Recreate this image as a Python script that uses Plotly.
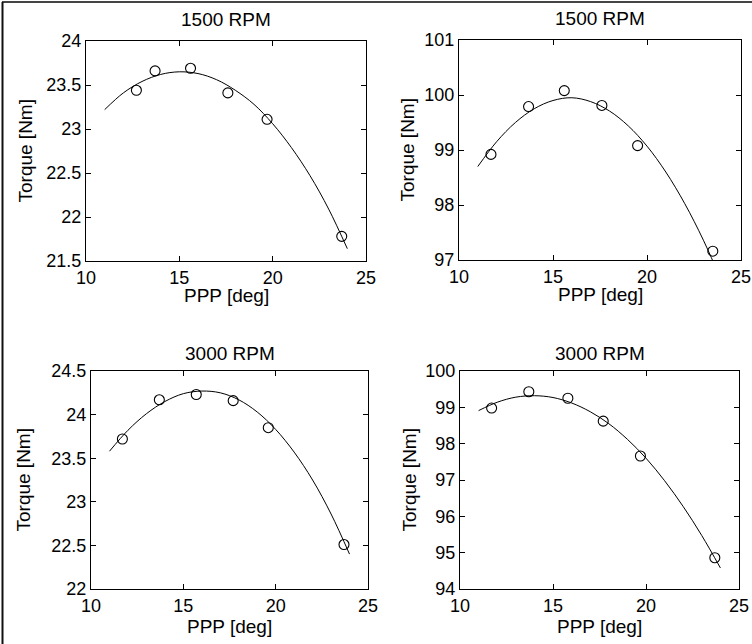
import plotly.graph_objects as go

W, H = 752, 644

# ---------------- data ----------------
titles = ["1500 RPM", "1500 RPM", "3000 RPM", "3000 RPM"]

# measured points
tl_x = [12.7, 13.7, 15.6, 17.6, 19.7, 23.7]
tl_y = [23.44, 23.66, 23.69, 23.41, 23.11, 21.78]
tr_x = [11.7, 13.7, 15.6, 17.6, 19.5, 23.5]
tr_y = [98.92, 99.79, 100.08, 99.81, 99.08, 97.16]
bl_x = [11.7, 13.7, 15.7, 17.7, 19.6, 23.7]
bl_y = [23.72, 24.17, 24.23, 24.16, 23.85, 22.51]
br_x = [11.7, 13.7, 15.8, 17.7, 19.7, 23.7]
br_y = [98.98, 99.43, 99.25, 98.62, 97.66, 94.86]

# fitted curves
fit_x = [11, 12, 13, 14, 15, 16, 17, 18, 19, 20, 21, 22, 23, 24]
tl_fit = [23.22, 23.41, 23.54, 23.62, 23.65, 23.63, 23.56, 23.44, 23.28, 23.06, 22.79, 22.47, 22.09, 21.64]
tr_fit = [98.70, 99.15, 99.50, 99.75, 99.90, 99.95, 99.88, 99.71, 99.44, 99.07, 98.60, 98.03, 97.36, 96.59]
bl_fit = [23.58, 23.82, 24.01, 24.15, 24.24, 24.27, 24.25, 24.17, 24.03, 23.83, 23.57, 23.25, 22.86, 22.40]
br_fit = [98.91, 99.14, 99.28, 99.32, 99.27, 99.12, 98.88, 98.55, 98.12, 97.60, 96.98, 96.27, 95.47, 94.58]

x_ticks = [10, 15, 20, 25]
x_ticklabels = ["10", "15", "20", "25"]
tl_ticks = [21.5, 22, 22.5, 23, 23.5, 24]
tl_ticklabels = ["21.5", "22", "22.5", "23", "23.5", "24"]
tr_ticks = [97, 98, 99, 100, 101]
tr_ticklabels = ["97", "98", "99", "100", "101"]
bl_ticks = [22, 22.5, 23, 23.5, 24, 24.5]
bl_ticklabels = ["22", "22.5", "23", "23.5", "24", "24.5"]
br_ticks = [94, 95, 96, 97, 98, 99, 100]
br_ticklabels = ["94", "95", "96", "97", "98", "99", "100"]

x_title = "PPP [deg]"
y_title = "Torque [Nm]"

# ---------------- layout geometry (pixels) ----------------
# (left, right, top, bottom)
boxes = [(86, 366, 41, 261), (459, 741, 40, 260), (91, 368, 371, 589), (460, 739, 371, 589)]
yranges = [(21.5, 24), (97, 101), (22, 24.5), (94, 100)]
ytitle_shift = [-49, -40, -56, -39]
title_shift = [9, 9, 5, 5]
xtitle_shift = [-22, -22, -25, -25]

panels = [
    (tl_x, tl_y, tl_fit, tl_ticks, tl_ticklabels),
    (tr_x, tr_y, tr_fit, tr_ticks, tr_ticklabels),
    (bl_x, bl_y, bl_fit, bl_ticks, bl_ticklabels),
    (br_x, br_y, br_fit, br_ticks, br_ticklabels),
]

FONT = "Liberation Sans, Arial, Helvetica, sans-serif"

fig = go.Figure()
layout = {}
annotations = []

for i, ((px, py, fy, yt, ytl), (l, r, t, b), yr, ttl) in enumerate(zip(panels, boxes, yranges, titles)):
    n = i + 1
    xa = "x" if n == 1 else f"x{n}"
    ya = "y" if n == 1 else f"y{n}"
    fig.add_trace(go.Scatter(x=fit_x, y=fy, mode="lines", line=dict(color="black", width=1, shape="spline"),
                             xaxis=xa, yaxis=ya, showlegend=False, hoverinfo="skip"))
    fig.add_trace(go.Scatter(x=px, y=py, mode="markers",
                             marker=dict(symbol="circle-open", size=10, color="black",
                                         line=dict(width=1.1, color="black")),
                             xaxis=xa, yaxis=ya, showlegend=False))
    axis_common = dict(showline=True, linecolor="black", linewidth=1, mirror="ticks", ticks="inside",
                       ticklen=5, tickcolor="black", tickwidth=1, showgrid=False, zeroline=False,
                       automargin=False, ticklabeloverflow="allow",
                       tickfont=dict(family=FONT, size=18, color="black"))
    layout["xaxis" if n == 1 else f"xaxis{n}"] = dict(
        domain=[l / W, r / W], range=[10, 25], anchor=ya, tickvals=x_ticks, ticktext=x_ticklabels,
        **axis_common)
    layout["yaxis" if n == 1 else f"yaxis{n}"] = dict(
        domain=[1 - b / H, 1 - t / H], range=list(yr), anchor=xa, tickvals=yt, ticktext=ytl,
        **axis_common)
    cx = (l + r) / 2 / W
    # subplot title
    annotations.append(dict(text=ttl, x=cx, y=1 - t / H, xref="paper", yref="paper", xanchor="center",
                            yanchor="bottom", yshift=title_shift[i], showarrow=False,
                            font=dict(family=FONT, size=19, color="black")))
    # x title
    annotations.append(dict(text=x_title, x=cx, y=1 - b / H, xref="paper", yref="paper", xanchor="center",
                            yanchor="top", yshift=xtitle_shift[i], showarrow=False,
                            font=dict(family=FONT, size=19, color="black")))
    # y title
    annotations.append(dict(text=y_title, x=l / W, y=1 - (t + b) / 2 / H, xref="paper", yref="paper",
                            xanchor="right", yanchor="middle", xshift=ytitle_shift[i],
                            textangle=-90, showarrow=False,
                            font=dict(family=FONT, size=19, color="black")))

shapes = [
    dict(type="line", xref="paper", yref="paper", x0=2 / W, x1=1, y0=1 - 2 / H, y1=1 - 2 / H,
         line=dict(color="#444444", width=2)),
    dict(type="line", xref="paper", yref="paper", x0=2.5 / W, x1=2.5 / W, y0=0, y1=1 - 2 / H,
         line=dict(color="#111111", width=2)),
]

fig.update_layout(**layout)
fig.update_layout(width=W, height=H, margin=dict(l=0, r=0, t=0, b=0, autoexpand=False),
                  paper_bgcolor="white", plot_bgcolor="white", annotations=annotations, shapes=shapes,
                  font=dict(family=FONT, size=18, color="black"))

post = (
    "document.documentElement.style.margin='0';"
    "document.body.style.margin='0';document.body.style.padding='0';document.body.style.overflow='hidden';"
    "var d=document.getElementsByClassName('plotly-graph-div')[0];"
    "d.style.position='absolute';d.style.left='0px';d.style.top='0px';"
)
fig.write_html("out.html", config={"displayModeBar": False}, post_script=post)
